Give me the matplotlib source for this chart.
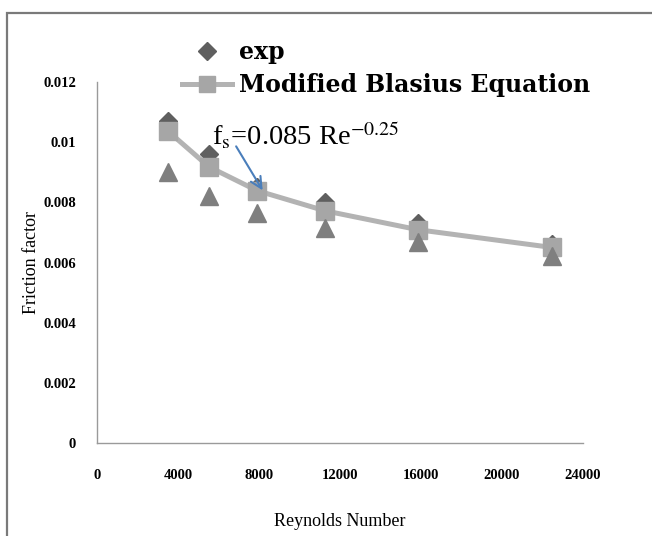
import matplotlib
matplotlib.use("Agg")
import matplotlib.pyplot as plt
from matplotlib.lines import Line2D
from matplotlib.patches import Rectangle

# Reynolds numbers of the measured runs
reynolds = [3500, 5530, 7900, 11250, 15850, 22470]
# Experimental friction factor
f_exp = [0.0107, 0.0096, 0.0085, 0.0080, 0.0073, 0.0066]
# Second measured set (triangles)
f_tri = [0.0090, 0.0082, 0.00766, 0.00715, 0.00667, 0.00622]
# Modified Blasius equation
f_blasius = [0.01037, 0.00918, 0.00839, 0.00772, 0.00709, 0.0065]

y_ticks = [0, 0.002, 0.004, 0.006, 0.008, 0.01, 0.012]
y_tick_labels = ["0", "0.002", "0.004", "0.006", "0.008", "0.01", "0.012"]
x_ticks = [0, 4000, 8000, 12000, 16000, 20000, 24000]
x_tick_labels = ["0", "4000", "8000", "12000", "16000", "20000", "24000"]

plt.rcParams["mathtext.fontset"] = "stix"

W, H = 652, 536
fig = plt.figure(figsize=(W / 100, H / 100), dpi=100)
fig.patch.set_facecolor("white")

# outer chart frame
fig.patches.append(Rectangle((7 / W, -0.05), 1.2, 1 - 13 / H + 0.05,
                             transform=fig.transFigure, fill=False,
                             edgecolor="#7a7a7a", linewidth=1.6))

ax = fig.add_axes([97 / W, 1 - 443 / H, (583 - 97) / W, (443 - 82) / H])
ax.set_xlim(0, 24000)
ax.set_ylim(0, 0.012)

ax.plot(reynolds, f_exp, linestyle="none", marker="D", markersize=9.5,
        color="#5f5f5f", zorder=2)
ax.plot(reynolds, f_blasius, color="#b3b3b3", linewidth=3.6, marker="s",
        markersize=13, markerfacecolor="#a6a6a6", markeredgecolor="#a6a6a6",
        zorder=3)
ax.plot(reynolds, f_tri, linestyle="none", marker="^", markersize=13,
        color="#7f7f7f", zorder=4)

for side in ("top", "right"):
    ax.spines[side].set_visible(False)
for side in ("left", "bottom"):
    ax.spines[side].set_color("#9a9a9a")
    ax.spines[side].set_linewidth(1.0)

ax.set_xticks(x_ticks)
ax.set_xticklabels(x_tick_labels)
ax.set_yticks(y_ticks)
ax.set_yticklabels(y_tick_labels)
ax.tick_params(axis="both", length=0)
ax.tick_params(axis="y", pad=15)
ax.tick_params(axis="x", pad=19)
for lab in ax.get_xticklabels() + ax.get_yticklabels():
    lab.set_fontfamily("Liberation Serif")
    lab.set_fontweight("bold")
    lab.set_fontsize(10.5)

ax.set_xlabel("Reynolds Number", fontfamily="Liberation Serif", fontsize=13,
              labelpad=22)
ax.set_ylabel("Friction factor", fontfamily="Liberation Serif", fontsize=13)
ax.yaxis.set_label_coords(-57 / (583 - 97), 0.5)

# equation label with arrow pointing at the curve
ax.text(5700, 0.0102, r"f$_{\mathrm{s}}$=0.085 Re$^{-0.25}$",
        fontfamily="Liberation Serif", fontsize=20.5, va="center", ha="left")
ax.annotate("", xy=(8250, 0.00832), xytext=(6800, 0.00994),
            arrowprops=dict(arrowstyle="->", color="#4a7ebb", lw=1.5,
                            mutation_scale=20))

handles = [
    Line2D([], [], linestyle="none", marker="D", markersize=9,
           color="#5f5f5f"),
    Line2D([], [], color="#b3b3b3", linewidth=3.6, marker="s", markersize=12,
           markerfacecolor="#a6a6a6", markeredgecolor="#a6a6a6"),
]
fig.legend(handles, ["exp", "Modified Blasius Equation"],
           loc="upper left", bbox_to_anchor=(182 / W, 1 - 40 / H),
           frameon=False, borderpad=0, borderaxespad=0, handlelength=2.1,
           handletextpad=0.3, labelspacing=0.38,
           prop=dict(family="DejaVu Serif", weight="bold", size=17))

fig.savefig("out.png", dpi=100, facecolor="white")
